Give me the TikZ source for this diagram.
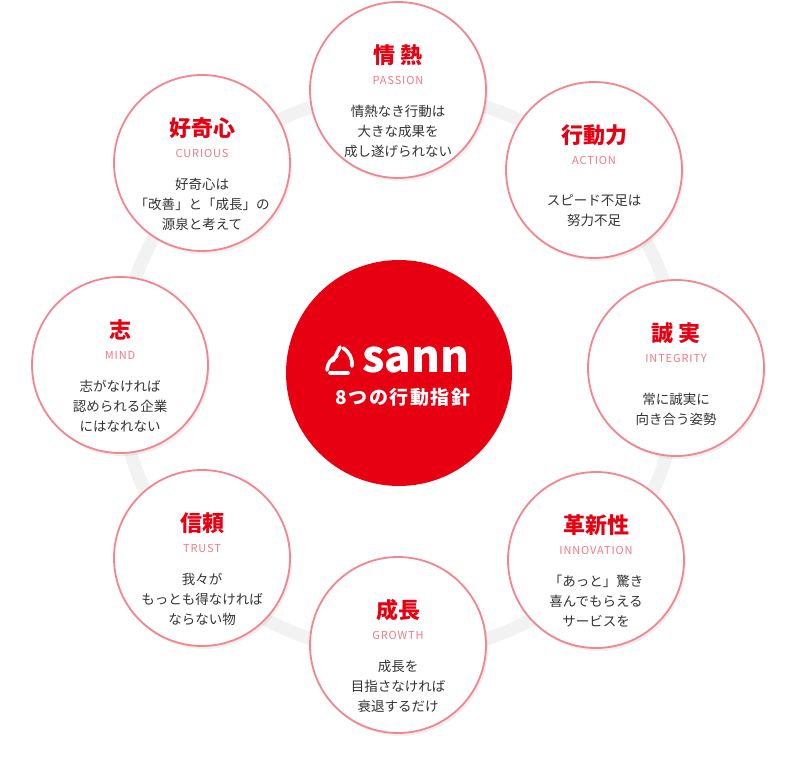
\documentclass[tikz,border=0pt]{standalone}
\usepackage{fontspec}
\setmainfont{Noto Sans CJK JP}
\usetikzlibrary{positioning,shadows}
\definecolor{sannred}{HTML}{E60012}
\definecolor{ringpink}{HTML}{F2858D}
\definecolor{subpink}{HTML}{EE7A85}
\definecolor{bodygray}{HTML}{333333}
\begin{document}
\begin{tikzpicture}[x=1pt,y=-1pt,
    valuecircle/.style={circle, draw=ringpink, line width=1.8pt, fill=white, minimum size=176pt, inner sep=0pt,
      drop shadow={shadow xshift=2pt, shadow yshift=-3pt, opacity=0.12}},
    titletext/.style={text=sannred, font=\fontsize{22}{26}\selectfont\bfseries},
    subtext/.style={text=subpink, font=\fontsize{11}{13}\selectfont\addfontfeatures{LetterSpace=8}},
    bodytext/.style={text=bodygray, align=center, font=\fontsize{13.5}{20}\selectfont}
]
    \useasboundingbox (0,0) rectangle (797,767);

    % faint ring
    \draw[line width=13pt, black!5] (399,373) circle (280);

    % centre
    \node[circle, fill=sannred, minimum size=226pt, inner sep=0pt] (core) at (399,373) {};
    \node[text=white, font=\fontsize{44}{48}\selectfont\bfseries, anchor=west, inner sep=0pt] (logo) at (362,360) {sann};
    \begin{scope}[white, line width=3.6pt, line cap=round]
        \draw (340,347) -- (333,361);
        \draw (343,348) to[bend left=30] (352,366);
        \draw (348,373) -- (330,373);
        \draw (327,370) to[bend left=30] (337,356);
    \end{scope}
    \node[text=white, font=\fontsize{19}{22}\selectfont\bfseries\addfontfeatures{LetterSpace=8}] (caption) at (403,397) {8つの行動指針};

    % values
    \foreach \name/\cx/\cy/\ttl/\sub/\txt in {
        passion/398/90/情 熱/PASSION/{情熱なき行動は\\大きな成果を\\成し遂げられない},
        action/594/170/行動力/ACTION/{スピード不足は\\努力不足},
        integrity/676/368/誠 実/INTEGRITY/{常に誠実に\\向き合う姿勢},
        innovation/596/560/革新性/INNOVATION/{「あっと」驚き\\喜んでもらえる\\サービスを},
        growth/398/645/成長/GROWTH/{成長を\\目指さなければ\\衰退するだけ},
        trust/202/558/信頼/TRUST/{我々が\\もっとも得なければ\\ならない物},
        mind/120/365/志/MIND/{志がなければ\\認められる企業\\にはなれない},
        curious/202/163/好奇心/CURIOUS/{好奇心は\\「改善」と「成長」の\\源泉と考えて}} {
        \node[valuecircle] (\name) at (\cx,\cy) {};
        \node[titletext] (\name-title) at (\cx,\cy-35) {\ttl};
        \node[subtext] (\name-sub) at (\cx,\cy-10) {\sub};
        \node[bodytext] (\name-body) at (\cx,\cy+41) {\txt};
    }
\end{tikzpicture}
\end{document}
